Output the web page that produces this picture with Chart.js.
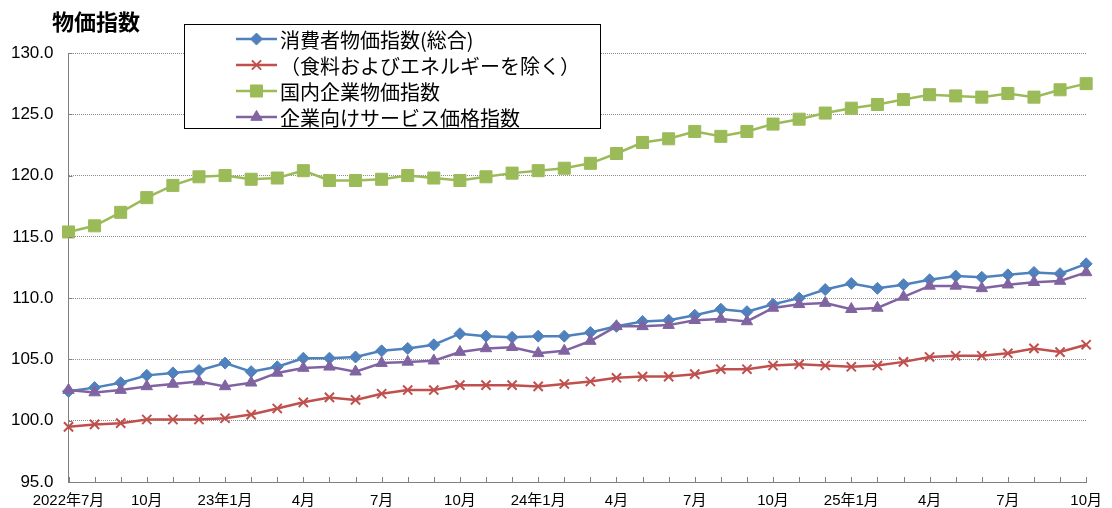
<!DOCTYPE html>
<html>
<head>
<meta charset="utf-8">
<script src="https://cdn.jsdelivr.net/npm/chart.js@4.4.1/dist/chart.umd.min.js"></script>
<style>
  html, body { margin: 0; padding: 0; background: #fff; }
  #wrap { position: relative; width: 1112px; height: 508px; }
</style>
</head>
<body>
<div id="wrap"><canvas id="chart" width="1112" height="508"></canvas></div>
<script>
const months = ['2022年7月', '8月', '9月', '10月', '11月', '12月',
    '23年1月', '2月', '3月', '4月', '5月', '6月', '7月', '8月', '9月', '10月', '11月', '12月',
    '24年1月', '2月', '3月', '4月', '5月', '6月', '7月', '8月', '9月', '10月', '11月', '12月',
    '25年1月', '2月', '3月', '4月', '5月', '6月', '7月', '8月', '9月', '10月'];

const cpi = [102.4, 102.7, 103.1, 103.7, 103.9, 104.1, 104.7, 104.0, 104.4, 105.1, 105.1, 105.2,
    105.7, 105.9, 106.2, 107.1, 106.9, 106.8, 106.9, 106.9, 107.2, 107.7, 108.1, 108.2,
    108.6, 109.1, 108.9, 109.5, 110.0, 110.7, 111.2, 110.8, 111.1, 111.5, 111.8, 111.7,
    111.9, 112.1, 112.0, 112.8];
const cpiCore = [99.5, 99.7, 99.8, 100.1, 100.1, 100.1, 100.2, 100.5, 101.0, 101.5, 101.9, 101.7,
    102.2, 102.5, 102.5, 102.9, 102.9, 102.9, 102.8, 103.0, 103.2, 103.5, 103.6, 103.6,
    103.8, 104.2, 104.2, 104.5, 104.6, 104.5, 104.4, 104.5, 104.8, 105.2, 105.3, 105.3,
    105.5, 105.9, 105.6, 106.2];
const cgpi = [115.4, 115.9, 117.0, 118.2, 119.2, 119.9, 120.0, 119.7, 119.8, 120.4, 119.6, 119.6,
    119.7, 120.0, 119.8, 119.6, 119.9, 120.2, 120.4, 120.6, 121.0, 121.8, 122.7, 123.0,
    123.6, 123.2, 123.6, 124.2, 124.6, 125.1, 125.5, 125.8, 126.2, 126.6, 126.5, 126.4,
    126.7, 126.4, 127.0, 127.5];
const sppi = [102.5, 102.3, 102.5, 102.8, 103.0, 103.2, 102.8, 103.1, 103.9, 104.3, 104.4, 104.0,
    104.7, 104.8, 104.9, 105.6, 105.9, 106.0, 105.5, 105.7, 106.5, 107.7, 107.7, 107.8,
    108.2, 108.3, 108.1, 109.2, 109.5, 109.6, 109.1, 109.2, 110.1, 111.0, 111.0, 110.8,
    111.1, 111.3, 111.4, 112.1];

const seriesNames = ['消費者物価指数(総合)', '（食料およびエネルギーを除く）', '国内企業物価指数', '企業向けサービス価格指数'];
const seriesColors = ['#4F81BD', '#C0504D', '#9BBB59', '#8064A2'];
const seriesStyles = ['rectRot', 'crossRot', 'rect', 'triangle'];
const seriesRadius = [6, 6.5, 8.5, 6.6];
const yTicks = [95, 100, 105, 110, 115, 120, 125, 130];

const numFont = '"Liberation Sans", Arial, "Noto Sans CJK JP", sans-serif';
const jpFont = '"Noto Sans CJK JP", "Liberation Sans", sans-serif';

function makeDataset(i, data, order) {
    return {
        label: seriesNames[i],
        data,
        order,
        borderColor: seriesColors[i],
        backgroundColor: seriesColors[i],
        borderWidth: 2.5,
        pointStyle: seriesStyles[i],
        pointRadius: seriesRadius[i],
        pointHoverRadius: seriesRadius[i],
        pointBackgroundColor: seriesColors[i],
        pointBorderColor: seriesColors[i],
        pointBorderWidth: seriesStyles[i] === 'crossRot' ? 2 : 1,
        tension: 0,
    };
}

// legend box, title and inward tick marks
const decorations = {
    id: 'decorations',
    afterDraw(chart) {
        const ctx = chart.ctx;
        const xs = chart.scales.x;
        const ys = chart.scales.y;
        const area = chart.chartArea;
        ctx.save();

        ctx.strokeStyle = '#808080';
        ctx.lineWidth = 1;
        ctx.beginPath();
        xs.ticks.forEach((t, i) => {
            const px = Math.round(xs.getPixelForTick(i)) + 0.5;
            ctx.moveTo(px, area.bottom);
            ctx.lineTo(px, area.bottom - 5);
        });
        yTicks.forEach(v => {
            const py = Math.round(ys.getPixelForValue(v)) + 0.5;
            ctx.moveTo(area.left, py);
            ctx.lineTo(area.left + 4, py);
        });
        ctx.stroke();

        ctx.fillStyle = '#000';
        ctx.font = 'bold 22px ' + jpFont;
        ctx.textBaseline = 'middle';
        ctx.textAlign = 'left';
        ctx.fillText('物価指数', 52, 22);

        const bx = 184.5, by = 24.5, bw = 416, bh = 104;
        ctx.fillStyle = '#fff';
        ctx.fillRect(bx, by, bw, bh);
        ctx.strokeStyle = '#000';
        ctx.lineWidth = 1;
        ctx.strokeRect(bx, by, bw, bh);

        const rowY = [39, 65, 91, 117];
        seriesNames.forEach((name, i) => {
            const y = rowY[i];
            ctx.strokeStyle = seriesColors[i];
            ctx.fillStyle = seriesColors[i];
            ctx.lineWidth = 2.5;
            ctx.beginPath();
            ctx.moveTo(236, y);
            ctx.lineTo(277, y);
            ctx.stroke();
            ctx.lineWidth = seriesStyles[i] === 'crossRot' ? 2 : 1;
            Chart.helpers.drawPoint(ctx, {
                pointStyle: seriesStyles[i],
                radius: seriesRadius[i],
                borderWidth: ctx.lineWidth,
                rotation: 0,
            }, 256.5, y);
            ctx.fillStyle = '#000';
            ctx.font = '20px ' + jpFont;
            ctx.textBaseline = 'middle';
            ctx.fillText(name, 280, y + 1);
        });
        ctx.restore();
    }
};

new Chart(document.getElementById('chart'), {
    type: 'line',
    data: {
        labels: months,
        datasets: [
            makeDataset(0, cpi, 3),
            makeDataset(1, cpiCore, 2),
            makeDataset(2, cgpi, 1),
            makeDataset(3, sppi, 0),
        ],
    },
    options: {
        responsive: false,
        animation: false,
        layout: { padding: { left: 0, right: 16, top: 53, bottom: 0 } },
        plugins: {
            legend: { display: false },
            tooltip: { enabled: false },
        },
        scales: {
            x: {
                offset: false,
                afterFit: s => { s.height = 26; },
                grid: { display: false, drawTicks: false },
                border: { display: true, color: '#808080', width: 1 },
                ticks: {
                    autoSkip: false,
                    maxRotation: 0,
                    padding: 10,
                    color: '#000',
                    font: { family: numFont, size: 15 },
                    callback: (v, i) => (i % 3 === 0 ? months[i] : ''),
                },
            },
            y: {
                min: 95,
                max: 130,
                afterFit: s => { s.width = 68.5; },
                grid: { color: '#8c8c8c', lineWidth: 1, drawTicks: false },
                border: { display: true, color: '#808080', width: 1, dash: [1, 1] },
                ticks: {
                    stepSize: 5,
                    padding: 15,
                    color: '#000',
                    font: { family: numFont, size: 17 },
                    callback: v => v.toFixed(1),
                },
            },
        },
    },
    plugins: [decorations],
});
</script>
</body>
</html>
